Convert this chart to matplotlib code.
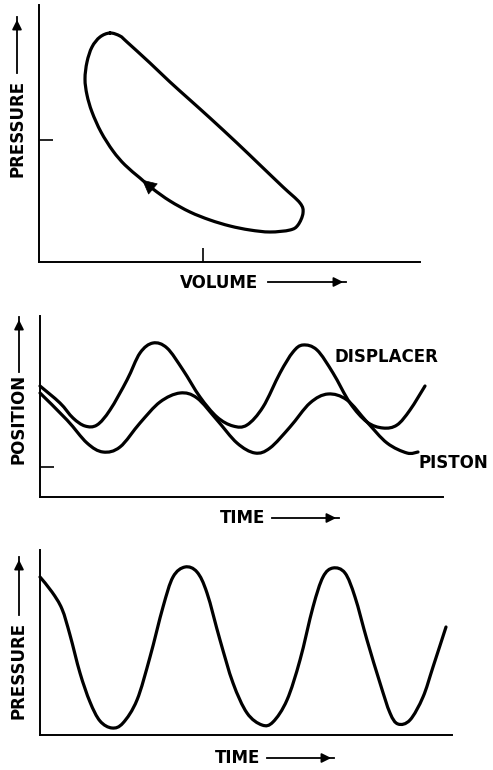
import matplotlib
import matplotlib.pyplot as plt
from matplotlib.path import Path
from matplotlib.patches import PathPatch

matplotlib.use("agg")

# P-V loop (arbitrary units), traced clockwise from the top
loop_volume = [71, 81, 88, 111, 131, 151, 171, 198, 221, 244, 261, 264, 259, 251,
               231, 211, 191, 171, 151, 131, 114, 101, 86, 74, 62, 53, 48, 46, 48,
               53, 61]
loop_pressure = [229, 226, 220, 199, 180, 162, 144, 119, 97, 75, 59, 49, 37, 32,
                 30, 32, 36, 42, 50, 61, 73, 84, 97, 111, 130, 150, 167, 183, 200,
                 215, 225]

# displacer / piston position vs time
displacer_time = [0, 20, 33, 45, 57, 70, 87, 100, 113, 127, 143, 160, 177, 193, 207,
                  223, 240, 253, 263, 277, 293, 310, 327, 343, 357, 370, 385]
displacer_pos = [111, 94, 79, 71, 72, 87, 117, 144, 154, 149, 127, 100, 80, 71, 72,
                 90, 124, 145, 152, 147, 124, 94, 75, 69, 72, 87, 111]
piston_time = [0, 27, 47, 63, 80, 100, 120, 140, 157, 177, 197, 215, 230, 250, 270,
               288, 307, 327, 347, 367, 378]
piston_pos = [104, 77, 54, 45, 50, 74, 95, 104, 99, 77, 54, 44, 49, 70, 94, 103, 97,
              75, 54, 44, 45]

# pressure vs time
pressure_time = [0, 12, 22, 30, 40, 50, 60, 72, 83, 97, 110, 123, 133, 145, 157, 167,
                 180, 193, 207, 222, 233, 247, 260, 273, 283, 293, 305, 315, 327, 340,
                 350, 358, 370, 383, 393, 406]
pressure_val = [158, 143, 126, 100, 62, 33, 14, 7, 12, 35, 78, 128, 158, 168, 163, 142,
                95, 52, 22, 10, 13, 35, 75, 128, 158, 167, 162, 138, 95, 52, 22, 11,
                15, 38, 68, 108]

W, H = 493, 770
FONT = dict(fontsize=12, fontweight="bold", color="black")

fig = plt.figure(figsize=(W / 100, H / 100), dpi=100)


def smooth_curve(ax, xs, ys, closed=False):
    """Draw a smooth Bezier path through the read points (Catmull-Rom style)."""
    pts = list(zip(xs, ys))
    n = len(pts)

    def p(k):
        if closed:
            return pts[k % n]
        return pts[min(max(k, 0), n - 1)]

    verts = [pts[0]]
    codes = [Path.MOVETO]
    last = n if closed else n - 1
    for k in range(last):
        p0, p1, p2, p3 = p(k - 1), p(k), p(k + 1), p(k + 2)
        c1 = (p1[0] + (p2[0] - p0[0]) / 6, p1[1] + (p2[1] - p0[1]) / 6)
        c2 = (p2[0] - (p3[0] - p1[0]) / 6, p2[1] - (p3[1] - p1[1]) / 6)
        verts += [c1, c2, p2]
        codes += [Path.CURVE4] * 3
    ax.add_patch(PathPatch(Path(verts, codes), facecolor="none", edgecolor="black",
                           lw=2.3, joinstyle="round", capstyle="round",
                           clip_on=False))


def make_axes(x0, y_top, x1, y_bottom):
    ax = fig.add_axes([x0 / W, 1 - y_bottom / H, (x1 - x0) / W, (y_bottom - y_top) / H])
    ax.set_xlim(0, x1 - x0)
    ax.set_ylim(0, y_bottom - y_top)
    for side in ["top", "right"]:
        ax.spines[side].set_visible(False)
    for side in ["left", "bottom"]:
        ax.spines[side].set_linewidth(1.4)
    ax.set_xticks([])
    ax.set_yticks([])
    ax.tick_params(direction="in", length=10, width=1.2, labelleft=False,
                   labelbottom=False)
    return ax


def arrow(tail, head):
    fig.add_artist(plt.Line2D([tail[0] / W, head[0] / W],
                              [1 - tail[1] / H, 1 - head[1] / H],
                              color="black", lw=1.3))
    plt.annotate("", xy=(head[0] / W, 1 - head[1] / H),
                 xytext=(head[0] / W - (head[0] - tail[0]) * 0.2 / W,
                         1 - head[1] / H + (head[1] - tail[1]) * 0.2 / H),
                 xycoords="figure fraction", textcoords="figure fraction",
                 arrowprops=dict(arrowstyle="-|>", color="black", lw=1.3,
                                 mutation_scale=14))


def ylabel(text, x, y):
    fig.text(x / W, 1 - y / H, text, rotation=90, ha="center", va="center", **FONT)


def xlabel(text, x, y):
    fig.text(x / W, 1 - y / H, text, ha="center", va="center", **FONT)


# --- panel 1: pressure-volume loop
ax1 = make_axes(39, 5, 420, 262)
smooth_curve(ax1, loop_volume, loop_pressure, closed=True)
ax1.set_xticks([164])
ax1.set_yticks([122])
i = loop_volume.index(114)
ax1.annotate("", xy=(loop_volume[i + 1], loop_pressure[i + 1]),
             xytext=(loop_volume[i], loop_pressure[i]),
             arrowprops=dict(arrowstyle="-|>", color="black", lw=0.5,
                             mutation_scale=24))
ylabel("PRESSURE", 18, 128)
arrow((17, 73), (17, 17))
xlabel("VOLUME", 219, 283)
arrow((268, 282), (346, 282))

# --- panel 2: displacer and piston position
ax2 = make_axes(40, 316, 443, 497)
smooth_curve(ax2, displacer_time, displacer_pos)
smooth_curve(ax2, piston_time, piston_pos)
ax2.set_yticks([30])
ax2.text(295, 140, "DISPLACER", ha="left", va="center", **FONT)
ax2.text(378, 34, "PISTON", ha="left", va="center", **FONT)
ylabel("POSITION", 19, 419)
arrow((19, 372), (19, 317))
xlabel("TIME", 243, 518)
arrow((272, 518), (339, 518))

# --- panel 3: pressure vs time
ax3 = make_axes(40, 550, 452, 735)
smooth_curve(ax3, pressure_time, pressure_val)
ylabel("PRESSURE", 19, 670)
arrow((19, 615), (19, 557))
xlabel("TIME", 238, 758)
arrow((267, 758), (334, 758))

plt.savefig("out.png", dpi=100)
plt.close()
